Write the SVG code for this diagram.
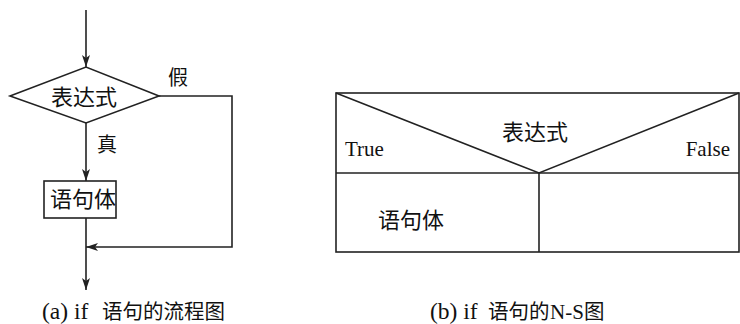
<svg xmlns="http://www.w3.org/2000/svg" width="740" height="324" viewBox="0 0 740 324">
<style>
.ln{fill:none;stroke:#222;stroke-width:1.6}
.cn{font-family:"Liberation Serif","Noto Sans CJK SC",serif;font-size:22px;fill:#111}
.lb{font-family:"Liberation Serif","Noto Sans CJK SC",serif;font-size:20px;fill:#111}
.lt{font-family:"Liberation Serif","Noto Sans CJK SC",serif;font-size:21px;fill:#111}
.cp{font-family:"Liberation Serif","Noto Sans CJK SC",serif;font-size:23.5px;fill:#111}
.cz{font-size:20.5px}
</style>
<defs>
<marker id="ah" viewBox="0 0 12 8" refX="12" refY="4" markerWidth="12" markerHeight="8" markerUnits="userSpaceOnUse" orient="auto">
<path d="M0,0 L12,4 L0,8 L3,4 Z" fill="#222"/>
</marker>
</defs>
<rect width="740" height="324" fill="#fff"/>
<g id="connectors">
<line class="ln" x1="86" y1="10" x2="86" y2="67" marker-end="url(#ah)"/>
<line class="ln" x1="86" y1="123" x2="86" y2="181" marker-end="url(#ah)"/>
<polyline class="ln" points="159,96 232,96 232,247 86,247" marker-end="url(#ah)"/>
<line class="ln" x1="86" y1="218" x2="86" y2="290" marker-end="url(#ah)"/>
<text class="lb" x="168" y="85">假</text>
<text class="lb" x="97" y="152">真</text>
</g>
<g id="decision">
<polygon class="ln" points="10,96 86,67 159,96 86,123"/>
<text class="cn" x="84" y="105" text-anchor="middle">表达式</text>
</g>
<g id="body">
<rect class="ln" x="44" y="181" width="72" height="37"/>
<text class="cn" x="83" y="207" text-anchor="middle">语句体</text>
</g>
<g id="caption-a">
<text class="cp" x="42" y="319">(a) if <tspan class="cz" x="102">语句的流程图</tspan></text>
</g>
<g id="ns">
<rect class="ln" x="336" y="93" width="403" height="159"/>
<line class="ln" x1="336" y1="173" x2="739" y2="173"/>
<line class="ln" x1="539" y1="173" x2="539" y2="252"/>
<polyline class="ln" points="336,93 539,173 739,93"/>
<text class="cn" x="535" y="140" text-anchor="middle">表达式</text>
<text class="lt" x="345" y="156">True</text>
<text class="lt" x="730" y="156" text-anchor="end">False</text>
<text class="cn" x="411" y="228" text-anchor="middle">语句体</text>
</g>
<g id="caption-b">
<text class="cp" x="430" y="319">(b) if <tspan class="cz" x="488">语句的</tspan><tspan x="550" font-size="21">N-S</tspan><tspan class="cz" x="584">图</tspan></text>
</g>
</svg>
